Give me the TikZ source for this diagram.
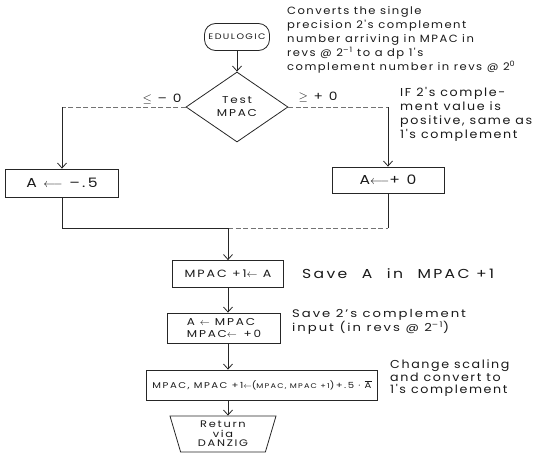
\documentclass[tikz,border=0pt]{standalone}
\usepackage{fontspec}
\setmainfont{Poppins}[LetterSpace=18, FakeStretch=1.2]
\newfontfamily\remarkfont{Poppins}[LetterSpace=14, FakeStretch=1.1]
\usetikzlibrary{shapes.geometric,arrows.meta}

\begin{document}
\begin{tikzpicture}[x=1pt,y=-1pt,
  ink/.style={draw=black!85, line width=0.8pt},
  faint/.style={draw=black!55, line width=0.65pt, dash pattern=on 5pt off 2.5pt},
  box/.style={ink, rectangle, inner sep=2pt},
  flow/.style={ink, -{Straight Barb[length=5pt,width=9pt]}},
  note/.style={align=left, anchor=north west, inner sep=0pt, text=black!90},
  lbl/.style={inner sep=0pt, text=black!90},
  txt/.style={text=black!90},
]
\useasboundingbox (0,0) rectangle (545,452);

% entry, test and the two branches
\node[ink, txt, rounded corners=11pt, minimum width=65pt, minimum height=27pt,
      font=\fontsize{8}{9}\selectfont] (start) at (237,37) {EDULOGIC};
\node[ink, txt, diamond, minimum width=102pt, minimum height=70pt, inner sep=0pt,
      align=center, font=\fontsize{10}{13}\selectfont] (test) at (237,107) {Test\\MPAC};
\node[lbl, font=\fontsize{11.5}{12}\selectfont] (le) at (162,99) {$\le$ – 0};
\node[lbl, font=\fontsize{11.5}{12}\selectfont] (ge) at (318,97) {$\ge$ + 0};

\node[box, txt, minimum width=113pt, minimum height=28pt,
      font=\fontsize{13}{13}\selectfont] (neg) at (62,183) {A $\longleftarrow$ –.5};
\node[box, txt, minimum width=112pt, minimum height=26pt,
      font=\fontsize{13}{13}\selectfont] (pos) at (388,180) {A$\longleftarrow$+ 0};
\coordinate (join) at (228,228);

% main sequence
\node[box, txt, minimum width=111pt, minimum height=27pt, inner sep=1pt,
      font=\fontsize{10.5}{12}\selectfont] (save) at (228,274) {MPAC +1$\leftarrow$ A};
\node[box, txt, minimum width=113pt, minimum height=30pt, align=left, inner sep=1pt,
      font=\fontsize{10}{12}\selectfont] (swap) at (224,328) {A $\leftarrow$ MPAC\\MPAC$\leftarrow$\, +0};
\node[box, txt, minimum width=231pt, minimum height=30pt, inner sep=1pt,
      font=\fontsize{8.4}{12}\selectfont] (scale) at (262,385)
      {MPAC, MPAC +1$\leftarrow$({\fontsize{6.8}{9}\selectfont MPAC, MPAC +1})\,+.5 · $\overline{\hbox{A}}$};
\node[ink, txt, trapezium, shape border rotate=180, trapezium stretches body,
      trapezium left angle=69, trapezium right angle=69,
      minimum width=106pt, minimum height=36pt, inner sep=1pt, align=center,
      font=\fontsize{9.5}{9.5}\selectfont] (ret) at (223,434) {Return\\via\\DANZIG};

% connectors
\draw[flow] (start) -- (test);
\draw[faint] (test.west) -- (test.west -| neg.north);
\draw[flow] (test.west -| neg.north) -- (neg.north);
\draw[faint] (test.east) -- (test.east -| pos.north);
\draw[flow] (test.east -| pos.north) -- (pos.north);
\draw[ink] (neg.south) |- (join);
\draw[faint] (join) -- (join -| pos.south);
\draw[ink] (pos.south) -- (pos.south |- join);
\draw[flow] (join) -- (save.north -| join);
\draw[flow] (save.south -| join) -- (swap.north -| join);
\draw[flow] (swap.south -| join) -- (scale.north -| join);
\draw[flow] (scale.south -| join) -- (ret.north -| join);

% remarks
\node[note, font=\remarkfont\fontsize{10.5}{14}\selectfont] (n1) at (287,6)
  {Converts the single\\precision 2's complement\\number arriving in MPAC in\\revs @ 2\textsuperscript{–1} to a dp 1's\\complement number in revs @ 2\textsuperscript{0}};
\node[note, font=\remarkfont\fontsize{11.5}{14}\selectfont] (n2) at (400,87)
  {IF 2's comple-\\ment value is\\positive, same as\\1's complement};
\node[note, anchor=west, font=\fontsize{13}{14}\selectfont] (n3) at (302,274)
  {Save\hspace{8pt} A\hspace{8pt} in\hspace{8pt} MPAC +1};
\node[note, font=\fontsize{11}{13}\selectfont] (n4) at (292,309)
  {Save 2's complement\\input (in revs @ 2\textsuperscript{–1})};
\node[note, font=\remarkfont\fontsize{11.5}{12.5}\selectfont] (n5) at (390,360)
  {Change scaling\\and convert to\\1's complement};
\end{tikzpicture}
\end{document}
